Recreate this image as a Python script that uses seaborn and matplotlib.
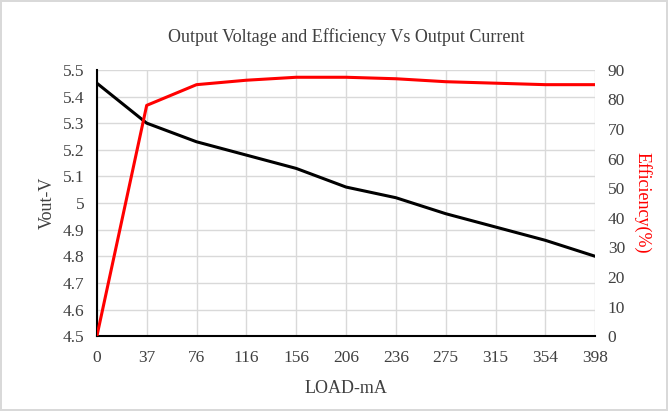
import pandas as pd
import matplotlib
matplotlib.use("Agg")
import matplotlib.pyplot as plt
import seaborn as sns

load_ma = ["0", "37", "76", "116", "156", "206", "236", "275", "315", "354", "398"]
vout = [5.45, 5.30, 5.23, 5.18, 5.13, 5.06, 5.02, 4.96, 4.91, 4.86, 4.80]
efficiency = [0, 78, 85, 86.5, 87.5, 87.5, 87, 86, 85.5, 85, 85]

df = pd.DataFrame({"load": load_ma, "vout": vout, "eff": efficiency})

sns.set_style("whitegrid")
plt.rcParams["font.family"] = ["Liberation Serif", "DejaVu Serif"]

fig = plt.figure(figsize=(6.68, 4.11), dpi=100)
fig.patch.set_edgecolor("#d9d9d9")
fig.patch.set_linewidth(1.5)
ax = fig.add_axes([0.145, 0.182, 0.746, 0.648])

sns.lineplot(data=df, x="load", y="vout", color="black", linewidth=2.2, ax=ax, sort=False)
ax.set_ylim(4.5, 5.5)
ax.set_yticks([4.5, 4.6, 4.7, 4.8, 4.9, 5.0, 5.1, 5.2, 5.3, 5.4, 5.5])
ax.set_yticklabels(["4.5", "4.6", "4.7", "4.8", "4.9", "5", "5.1", "5.2", "5.3", "5.4", "5.5"])
ax.set_xlim(0, len(load_ma) - 1)

ax2 = ax.twinx()
sns.lineplot(data=df, x="load", y="eff", color="#ff0000", linewidth=2.2, ax=ax2, sort=False)
ax2.set_ylim(0, 90)
ax2.set_yticks(range(0, 91, 10))
ax2.grid(False)

for a in (ax, ax2):
    a.tick_params(length=0, labelsize=12.5, colors="#404040", pad=9)
    for s in a.spines.values():
        s.set_visible(False)
ax.tick_params(axis="x", pad=10)

ax.grid(True, color="#d9d9d9", linewidth=1)
ax.spines["left"].set_visible(True)
ax.spines["left"].set_color("black")
ax.spines["left"].set_linewidth(1.5)
ax.spines["bottom"].set_visible(True)
ax.spines["bottom"].set_color("black")
ax.spines["bottom"].set_linewidth(1.5)

ax.set_xlabel("LOAD-mA", fontsize=13, color="#404040", labelpad=10)
ax.set_ylabel("Vout-V", fontsize=13, color="#404040", labelpad=5)
ax2.set_ylabel("Efficiency(%)", fontsize=13, color="#ff0000", rotation=270, labelpad=19)
ax.set_title("Output Voltage and Efficiency Vs Output Current", fontsize=13, color="#404040", pad=20)

fig.savefig("out.png", dpi=100)
